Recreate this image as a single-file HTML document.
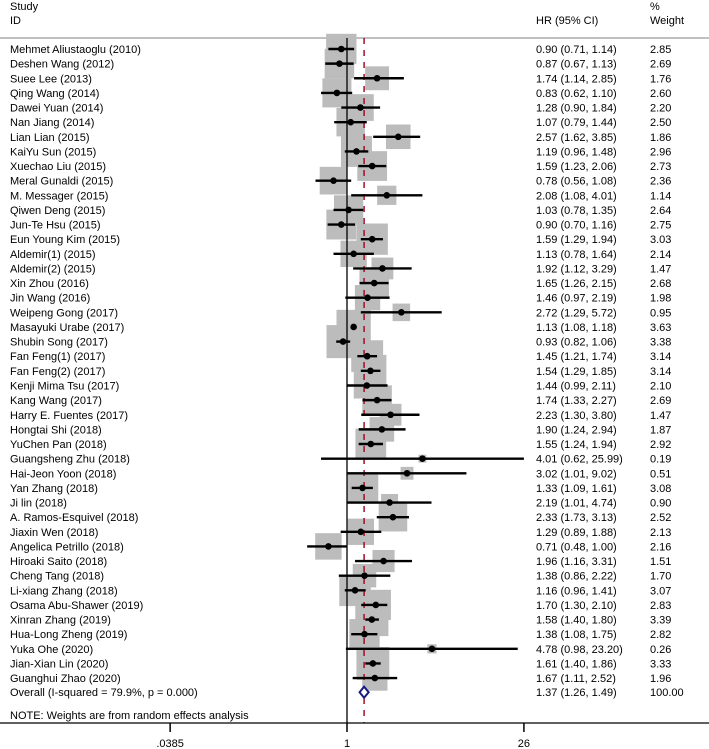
<!DOCTYPE html>
<html><head><meta charset="utf-8"><style>
html,body{margin:0;padding:0;background:#fff;}
svg{display:block;font-family:"Liberation Sans",Arial,sans-serif;font-size:11px;}
</style></head><body>
<svg id="chart" width="709" height="749" viewBox="0 0 709 749" xmlns="http://www.w3.org/2000/svg">
<text x="10" y="10">Study</text>
<text x="10" y="24">ID</text>
<text x="536" y="24">HR (95% CI)</text>
<text x="650" y="10">%</text>
<text x="650" y="24">Weight</text>
<line x1="0" y1="38" x2="709" y2="38" stroke="#c0c0c0" stroke-width="2"/>
<g id="squares"></g>
<g id="reflines"></g>
<g id="marks"></g>
<g id="labels"></g>
<g id="axis"></g>
</svg>
<script>
const studies = ["Mehmet Aliustaoglu (2010)","Deshen Wang (2012)","Suee Lee (2013)","Qing Wang (2014)","Dawei Yuan (2014)","Nan Jiang (2014)","Lian Lian (2015)","KaiYu Sun (2015)","Xuechao Liu (2015)","Meral Gunaldi (2015)","M. Messager (2015)","Qiwen Deng (2015)","Jun-Te Hsu (2015)","Eun Young Kim (2015)","Aldemir(1) (2015)","Aldemir(2) (2015)","Xin Zhou (2016)","Jin Wang (2016)","Weipeng Gong (2017)","Masayuki Urabe (2017)","Shubin Song (2017)","Fan Feng(1) (2017)","Fan Feng(2) (2017)","Kenji Mima Tsu (2017)","Kang Wang (2017)","Harry E. Fuentes (2017)","Hongtai Shi (2018)","YuChen Pan (2018)","Guangsheng Zhu (2018)","Hai-Jeon Yoon (2018)","Yan Zhang (2018)","Ji lin (2018)","A. Ramos-Esquivel (2018)","Jiaxin Wen (2018)","Angelica Petrillo (2018)","Hiroaki Saito (2018)","Cheng Tang (2018)","Li-xiang Zhang (2018)","Osama Abu-Shawer (2019)","Xinran Zhang (2019)","Hua-Long Zheng (2019)","Yuka Ohe (2020)","Jian-Xian Lin (2020)","Guanghui Zhao (2020)"];
const hr = [0.90,0.87,1.74,0.83,1.28,1.07,2.57,1.19,1.59,0.78,2.08,1.03,0.90,1.59,1.13,1.92,1.65,1.46,2.72,1.13,0.93,1.45,1.54,1.44,1.74,2.23,1.90,1.55,4.01,3.02,1.33,2.19,2.33,1.29,0.71,1.96,1.38,1.16,1.70,1.58,1.38,4.78,1.61,1.67];
const lo = [0.71,0.67,1.14,0.62,0.90,0.79,1.62,0.96,1.23,0.56,1.08,0.78,0.70,1.29,0.78,1.12,1.26,0.97,1.29,1.08,0.82,1.21,1.29,0.99,1.33,1.30,1.24,1.24,0.62,1.01,1.09,1.01,1.73,0.89,0.48,1.16,0.86,0.96,1.30,1.40,1.08,0.98,1.40,1.11];
const hi = [1.14,1.13,2.85,1.10,1.84,1.44,3.85,1.48,2.06,1.08,4.01,1.35,1.16,1.94,1.64,3.29,2.15,2.19,5.72,1.18,1.06,1.74,1.85,2.11,2.27,3.80,2.94,1.94,25.99,9.02,1.61,4.74,3.13,1.88,1.00,3.31,2.22,1.41,2.10,1.80,1.75,23.20,1.86,2.52];
const weight = [2.85,2.69,1.76,2.60,2.20,2.50,1.86,2.96,2.73,2.36,1.14,2.64,2.75,3.03,2.14,1.47,2.68,1.98,0.95,3.63,3.38,3.14,3.14,2.10,2.69,1.47,1.87,2.92,0.19,0.51,3.08,0.90,2.52,2.13,2.16,1.51,1.70,3.07,2.83,3.39,2.82,0.26,3.33,1.96];
const overall = [1.37,1.26,1.49];
const overallLabel = "Overall  (I-squared = 79.9%, p = 0.000)";
const ticks = [0.0385,1,26];
const tickLabels = [".0385","1","26"];

const NS="http://www.w3.org/2000/svg";
const X0=347, PX=54.3, Y0=49, DY=14.63, XMAX=26;
const xs = v => X0 + Math.log(v)*PX;
const ys = i => Y0 + i*DY;
const fmt = v => v.toFixed(2);
function mk(tag, attrs, parent){const e=document.createElementNS(NS,tag);for(const k in attrs)e.setAttribute(k,attrs[k]);parent.appendChild(e);return e;}
const gS=document.getElementById('squares'), gR=document.getElementById('reflines'), gM=document.getElementById('marks'), gL=document.getElementById('labels'), gA=document.getElementById('axis');
const yTop=38, yAx=723;

studies.forEach((s,i)=>{
  const y=ys(i), cx=xs(hr[i]), side=18*Math.sqrt(weight[i]);
  const sq=mk('rect',{x:cx-side/2,y:y-side/2,width:side,height:side,fill:'#bcbcbc'},gS);
  
  
  const upper=Math.min(hi[i],XMAX);
  const ci=mk('line',{x1:xs(lo[i]),y1:y,x2:xs(upper),y2:y,stroke:'#000','stroke-width':2.4},gM);
  
  
  if(hi[i]>XMAX){
    const ax=xs(XMAX);
    const ar=mk('polygon',{points:`${ax},${y} ${ax-9},${y-4.5} ${ax-9},${y+4.5}`,fill:'#000'},gM);
    
    
  }
  const pt=mk('circle',{cx:cx,cy:y,r:3.3,fill:'#000'},gM);
  
  
  const t1=mk('text',{x:10,y:y+4},gL); t1.textContent=s;
  
  
  const t2=mk('text',{x:536,y:y+4},gL); t2.textContent=`${fmt(hr[i])} (${fmt(lo[i])}, ${fmt(hi[i])})`;
  
  
  const t3=mk('text',{x:650,y:y+4},gL); t3.textContent=fmt(weight[i]);
  
  
});

const nl=mk('line',{x1:X0,y1:yTop,x2:X0,y2:yAx,stroke:'#000','stroke-width':1.3},gR);


const ox=xs(overall[0]);
const ol=mk('line',{x1:ox,y1:yTop,x2:ox,y2:yAx,stroke:'#a0102a','stroke-width':1.5,'stroke-dasharray':'6,6'},gR);



const oy=ys(studies.length)-0.5;
const dm=mk('polygon',{points:`${xs(overall[1])},${oy} ${ox},${oy-5.5} ${xs(overall[2])},${oy} ${ox},${oy+5.5}`,fill:'#fff',stroke:'#1a1a80','stroke-width':2},gM);


const o1=mk('text',{x:10,y:oy+4},gL); o1.textContent=overallLabel;


const o2=mk('text',{x:536,y:oy+4},gL); o2.textContent=`${fmt(overall[0])} (${fmt(overall[1])}, ${fmt(overall[2])})`;


const o3=mk('text',{x:650,y:oy+4},gL); o3.textContent="100.00";


const note=mk('text',{x:10,y:719},gL); note.textContent="NOTE: Weights are from random effects analysis";



const al=mk('line',{x1:0,y1:yAx,x2:709,y2:yAx,stroke:'#000','stroke-width':1.3},gA);


ticks.forEach((t,i)=>{
  const tx=xs(t);
  const tl=mk('line',{x1:tx,y1:yAx,x2:tx,y2:yAx+9,stroke:'#000','stroke-width':1.5},gA);
  
  
  const lb=mk('text',{x:tx,y:747,'text-anchor':'middle'},gA); lb.textContent=tickLabels[i];
  
  
});
</script>
</body></html>
